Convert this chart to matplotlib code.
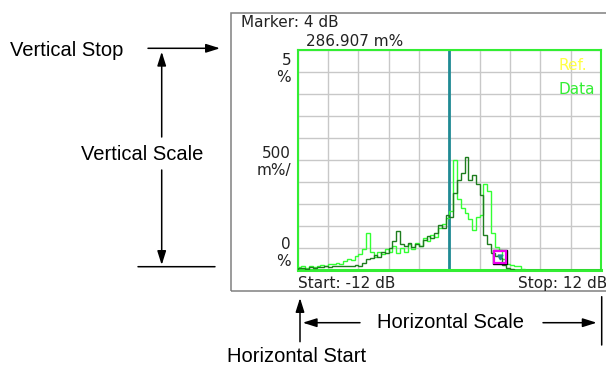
import numpy as np
import matplotlib
matplotlib.use("Agg")
import matplotlib.pyplot as plt
from matplotlib.patches import Rectangle, FancyArrowPatch

# histogram of the measured signal, % per 0.3 dB bin, -12 dB .. +12 dB
bin_edges_db = np.linspace(-12, 12, 81)

data_light = [
    0.06, 0.08, 0.05, 0.09, 0.07, 0.10, 0.12, 0.10, 0.14, 0.13,
    0.16, 0.14, 0.20, 0.26, 0.22, 0.32, 0.36, 0.48, 0.84, 0.40,
    0.30, 0.42, 0.36, 0.48, 0.42, 0.55, 0.38, 0.50, 0.40, 0.58,
    0.48, 0.62, 0.55, 0.72, 0.66, 0.80, 0.74, 0.95, 1.05, 1.18,
    1.35, 2.50, 1.62, 1.40, 1.30, 1.15, 0.92, 1.20, 1.25, 1.95,
    1.80, 0.85, 0.52, 0.45, 0.25, 0.14, 0.12, 0.10, 0.08, 0.02,
    0, 0, 0, 0, 0, 0, 0, 0, 0, 0,
    0, 0, 0, 0, 0, 0, 0, 0, 0, 0,
]

data_dark = [
    0.04, 0.05, 0.03, 0.06, 0.05, 0.07, 0.06, 0.08, 0.07, 0.08,
    0.09, 0.08, 0.10, 0.08, 0.10, 0.12, 0.10, 0.15, 0.24, 0.28,
    0.34, 0.30, 0.42, 0.38, 0.50, 0.65, 0.88, 0.58, 0.55, 0.62,
    0.52, 0.58, 0.55, 0.68, 0.78, 0.72, 0.85, 1.02, 0.95, 1.25,
    1.20, 1.75, 2.05, 2.20, 2.57, 2.05, 2.15, 1.95, 1.70, 0.80,
    0.60, 0.38, 0.32, 0.28, 0.12, 0.05, 0.02, 0, 0, 0,
    0, 0, 0, 0, 0, 0, 0, 0, 0, 0,
    0, 0, 0, 0, 0, 0, 0, 0, 0, 0,
]

marker_db = 4
marker_pct = 0.286907
mean_db = 0

W, H = 606, 367


def fx(px):
    return px / W


def fy(py):
    return 1 - py / H


fig = plt.figure(figsize=(W / 100, H / 100), dpi=100)
fig.patch.set_facecolor("white")

# instrument screen frame
fig.add_artist(Rectangle((fx(230.7), fy(291)), fx(640 - 230.7), (291 - 13.3) / H,
                         transform=fig.transFigure, fill=False, ec="#808080", lw=1.1))

ax = fig.add_axes([fx(297.7), fy(270), fx(601 - 297.7), (270 - 50) / H])
ax.set_xlim(-12, 12)
ax.set_ylim(0, 5)
ax.set_xticks(np.linspace(-12, 12, 11))
ax.set_yticks(np.linspace(0, 5, 11))
ax.tick_params(length=0, labelbottom=False, labelleft=False)
ax.grid(True, color="#c8c8c8", lw=1.0)
ax.set_axisbelow(True)
for s in ax.spines.values():
    s.set_color("#33ee33")
    s.set_linewidth(1.5)
ax.spines["bottom"].set_linewidth(2.2)

ax.axvline(mean_db, color="#1f8a94", lw=2.0, zorder=2)

ax.stairs(data_light, bin_edges_db, color="#33ff33", lw=1.0, zorder=3)
ax.stairs(data_dark, bin_edges_db, color="#1e7d1e", lw=1.0, zorder=3)

# marker box
ax.plot(marker_db, marker_pct, marker="s", ms=10, mfc="none", mec="black", mew=1.0, zorder=5)
ax.plot(marker_db, marker_pct, marker="s", ms=8.6, mfc="none", mec="#ee00ee", mew=1.6, zorder=5)
ax.plot(marker_db, marker_pct, marker="v", ms=3.5, color="#1f8a94", zorder=5)

scr_font = dict(family="DejaVu Sans", fontsize=11)
ax.text(-0.022, 4.57, "5\n%", transform=ax.get_yaxis_transform(), ha="right", va="center",
        color="#222222", linespacing=1.15, **scr_font)
ax.text(-0.022, 2.45, "500\nm%/", transform=ax.get_yaxis_transform(), ha="right", va="center",
        color="#222222", linespacing=1.15, **scr_font)
ax.text(-0.022, 0.39, "0\n%", transform=ax.get_yaxis_transform(), ha="right", va="center",
        color="#222222", linespacing=1.15, **scr_font)

fig.text(fx(241), fy(22.7), "Marker: 4 dB", ha="left", va="center", color="#222222", **scr_font)
fig.text(fx(306), fy(41.7), "286.907 m%", ha="left", va="center", color="#222222", **scr_font)
fig.text(fx(298), fy(283.3), "Start: -12 dB", ha="left", va="center", color="#222222", **scr_font)
fig.text(fx(518), fy(283.3), "Stop: 12 dB", ha="left", va="center", color="#222222", **scr_font)
fig.text(fx(558), fy(66), "Ref.", ha="left", va="center", color="#ffff44", **scr_font)
fig.text(fx(558), fy(89), "Data", ha="left", va="center", color="#33ee33", **scr_font)

# callouts around the screen
ann_font = dict(family="Liberation Sans", fontsize=14.5, color="black")
fig.text(fx(10), fy(50.7), "Vertical Stop", ha="left", va="center", **ann_font)
fig.text(fx(142.5), fy(155), "Vertical Scale", ha="center", va="center", **ann_font)
fig.text(fx(376.7), fy(322.7), "Horizontal Scale", ha="left", va="center", **ann_font)
fig.text(fx(226.7), fy(357), "Horizontal Start", ha="left", va="center", **ann_font)


def arrow(p0, p1, head=True):
    style = "-|>,head_length=0.7,head_width=0.22" if head else "-"
    fig.add_artist(FancyArrowPatch((fx(p0[0]), fy(p0[1])), (fx(p1[0]), fy(p1[1])),
                                   transform=fig.transFigure, arrowstyle=style,
                                   mutation_scale=12, lw=1.1, color="black",
                                   shrinkA=0, shrinkB=0))


arrow((148, 48.3), (220, 48.3))
arrow((161.7, 137), (161.7, 51.7))
arrow((161.7, 170), (161.7, 265))
arrow((138, 266.7), (215, 266.7), head=False)
arrow((300, 341.7), (300, 298))
arrow((360, 322.7), (302.7, 322.7))
arrow((543, 322.7), (596.7, 322.7))
arrow((601.7, 296.7), (601.7, 345), head=False)

fig.savefig("out.png", dpi=100)
